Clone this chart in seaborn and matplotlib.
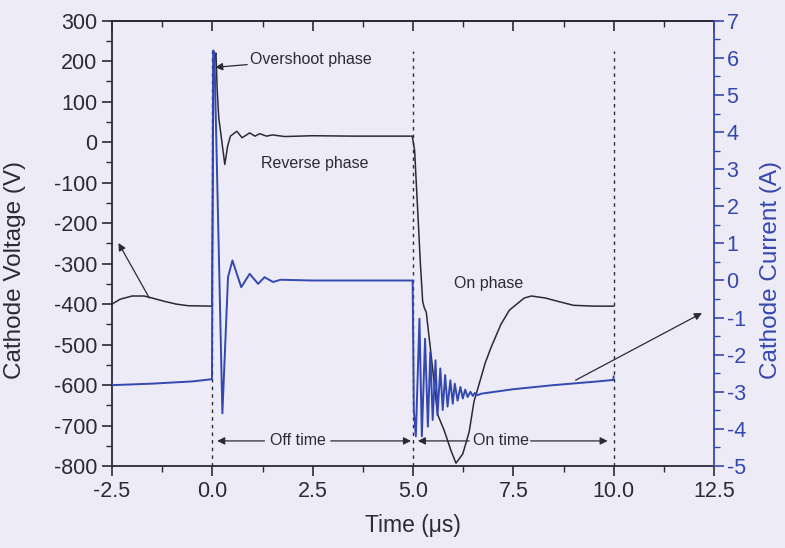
import matplotlib
matplotlib.use('Agg')
import matplotlib.pyplot as plt
import seaborn as sns
import numpy as np
import pandas as pd
from matplotlib.ticker import MultipleLocator

sns.set_theme(style='ticks')
plt.rcParams['font.family'] = ['Liberation Sans', 'DejaVu Sans']
plt.rcParams['axes.unicode_minus'] = False

BG = '#ECEBF6'
DARK = '#2b2b35'
BLUE = '#3448b0'

# Cathode voltage trace (time in us, volts)
volt_t = [-2.5, -2.3, -2.0, -1.7, -1.5, -1.2, -0.9, -0.6, -0.01,
          0.03, 0.06, 0.09, 0.12, 0.16, 0.31, 0.38, 0.45, 0.61, 0.74,
          0.93, 1.06, 1.18, 1.35, 1.5, 1.8, 2.5, 3.5, 4.98,
          5.04, 5.07, 5.13, 5.18, 5.24, 5.28, 5.33, 5.45, 5.61, 5.78,
          5.95, 6.07, 6.24, 6.40, 6.52, 6.61, 6.80, 6.94, 7.19, 7.40,
          7.77, 7.95, 8.3, 8.6, 9.0, 9.5, 10.0]
volt_v = [-400, -388, -380, -380, -385, -393, -400, -404, -405,
          150, 215, 220, 130, 60, -55, -10, 15, 27, 11,
          23, 15, 21, 15, 18, 14, 16, 15, 15,
          -20, -80, -195, -294, -393, -409, -420, -525, -672, -713,
          -763, -793, -770, -715, -640, -610, -545, -508, -450, -415,
          -385, -380, -385, -393, -403, -405, -405]

# Cathode current trace (time in us, amperes)
curr_t = [-2.5, -1.5, -0.5, -0.01, 0.02, 0.05, 0.25, 0.39, 0.5, 0.72,
          0.93, 1.14, 1.30, 1.51, 1.7, 2.5, 4.99,
          5.02, 5.07, 5.16, 5.22, 5.30, 5.37, 5.43, 5.49, 5.56, 5.61,
          5.68, 5.74, 5.80, 5.86, 5.93, 5.99, 6.04, 6.11, 6.18, 6.24,
          6.30, 6.36, 6.43, 6.49, 6.54, 6.61, 6.7, 7.5, 8.5, 9.5, 9.99,
          10.0]
curr_i = [-2.82, -2.78, -2.72, -2.66, 6.2, 6.15, -3.58, 0.09, 0.54, -0.18,
          0.18, -0.09, 0.09, -0.04, 0.02, 0.0, 0.0,
          -3.5, -4.2, -1.03, -4.2, -1.57, -3.94, -1.93, -3.76, -2.15, -3.63,
          -2.37, -3.49, -2.55, -3.40, -2.69, -3.32, -2.78, -3.24, -2.87, -3.18,
          -2.94, -3.14, -3.00, -3.11, -3.03, -3.09, -3.05, -2.93, -2.82, -2.73, -2.68,
          -2.58]

volt_df = pd.DataFrame({'t': volt_t, 'v': volt_v})
curr_df = pd.DataFrame({'t': curr_t, 'i': curr_i})

fig = plt.figure(figsize=(7.85, 5.48), dpi=100, facecolor=BG)
ax = fig.add_axes([0.1427, 0.1496, 0.7669, 0.8125])
ax.set_facecolor(BG)
ax2 = ax.twinx()

sns.lineplot(data=volt_df, x='t', y='v', ax=ax, color=DARK, lw=1.1,
             estimator=None, sort=False)
sns.lineplot(data=curr_df, x='t', y='i', ax=ax2, color=BLUE, lw=1.4,
             estimator=None, sort=False)

for xv in [0, 5, 10]:
    ax.plot([xv, xv], [-800, 225], color=DARK, lw=1.0, ls=(0, (2.5, 3)))

ax.set_xlim(-2.5, 12.5)
ax.set_ylim(-800, 300)
ax2.set_ylim(-5, 7)

ax.xaxis.set_major_locator(MultipleLocator(2.5))
ax.xaxis.set_minor_locator(MultipleLocator(1.25))
ax.yaxis.set_major_locator(MultipleLocator(100))
ax.yaxis.set_minor_locator(MultipleLocator(50))
ax2.yaxis.set_major_locator(MultipleLocator(1))
ax2.yaxis.set_minor_locator(MultipleLocator(0.5))
ax.set_xticks(np.arange(-2.5, 12.6, 2.5))
ax.set_xticklabels([f'{v:.1f}' for v in np.arange(-2.5, 12.6, 2.5)])

ax.tick_params(axis='both', which='major', labelsize=15.5, colors=DARK, length=7, width=1.2)
ax.tick_params(axis='both', which='minor', length=4, width=1.0, colors=DARK)
ax2.tick_params(axis='y', which='major', labelsize=15.5, colors=BLUE, length=7, width=1.2, pad=2)
ax2.tick_params(axis='y', which='minor', length=4, width=1.0, colors=BLUE)

for s in ['left', 'bottom', 'top']:
    ax.spines[s].set_color(DARK)
    ax.spines[s].set_linewidth(1.3)
for s in ['left', 'bottom', 'top', 'right']:
    ax2.spines[s].set_visible(False)
ax2.spines['right'].set_visible(True)
ax2.spines['right'].set_color(BLUE)
ax2.spines['right'].set_linewidth(1.3)
ax.spines['right'].set_visible(False)

ax.set_xlabel('Time (\u03bcs)', fontsize=16.5, color=DARK, labelpad=9)
ax.set_ylabel('Cathode Voltage (V)', fontsize=17.5, color=DARK)
ax2.set_ylabel('Cathode Current (A)', fontsize=17.5, color=BLUE)
ax.yaxis.set_label_coords(-0.143, 0.44)
ax2.yaxis.set_label_coords(1.076, 0.44)

# inward ticks on the top axis
secx = ax.secondary_xaxis('top')
secx.xaxis.set_major_locator(MultipleLocator(2.5))
secx.xaxis.set_minor_locator(MultipleLocator(1.25))
secx.tick_params(which='major', direction='in', length=7, width=1.2, colors=DARK, labeltop=False)
secx.tick_params(which='minor', direction='in', length=4, width=1.0, colors=DARK)
secx.spines['top'].set_color(DARK)
secx.spines['top'].set_linewidth(1.3)
ax.tick_params(axis='x', which='both', top=False)

arrow = dict(arrowstyle='-|>', color=DARK, lw=0.9, mutation_scale=11, shrinkA=0, shrinkB=0)
txt = dict(fontsize=11.5, color=DARK, va='center')

ax.annotate('Overshoot phase', xy=(0.07, 185), xytext=(0.95, 205),
            arrowprops=arrow, ha='left', **txt)
ax.text(1.22, -52, 'Reverse phase', ha='left', **txt)
ax.text(6.02, -350, 'On phase', ha='left', **txt)

ax.annotate('', xy=(-2.34, -249), xytext=(-1.57, -385), arrowprops=arrow)
ax.annotate('', xy=(12.2, -422), xytext=(9.05, -588), arrowprops=arrow)

ax.annotate('', xy=(0.12, -738), xytext=(1.3, -738), arrowprops=arrow)
ax.annotate('', xy=(4.95, -738), xytext=(2.95, -738), arrowprops=arrow)
ax.text(2.13, -738, 'Off time', ha='center', **txt)

ax.annotate('', xy=(5.12, -738), xytext=(6.4, -738), arrowprops=arrow)
ax.annotate('', xy=(9.85, -738), xytext=(7.93, -738), arrowprops=arrow)
ax.text(7.19, -738, 'On time', ha='center', **txt)

fig.savefig('out.png', dpi=100, facecolor=BG)
